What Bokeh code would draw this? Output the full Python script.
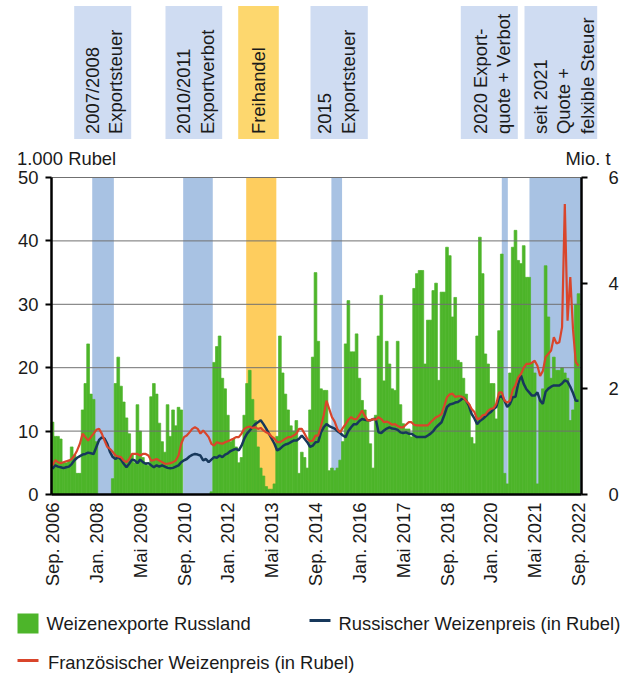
import math
from bokeh.plotting import figure
from bokeh.models import Range1d, LinearAxis, FixedTicker, ColumnDataSource
from bokeh.embed import file_html
from bokeh.resources import INLINE
from bokeh.core.properties import value

FONT = "Liberation Sans"

# ---------------- data ----------------
# month index 0 = Sep. 2006 ... 192 = Sep. 2022
months = list(range(193))

# Weizenexporte Russland (Mio. t)
exports = [
    1.37, 1.1, 1.1, 1.05, 0.6, 0.6, 0.65, 0.9, 0.75, 0.4,
    0.4, 1.6, 2.1, 2.85, 1.9, 1.8, 1.0, 0.0, 0.0, 0.0,
    0.0, 0.0, 0.3, 2.1, 2.6, 2.05, 1.75, 1.45, 1.15, 0.75,
    0.6, 1.7, 1.2, 0.7, 0.6, 0.55, 1.85, 2.1, 1.9, 1.35,
    1.0, 0.8, 1.7, 1.1, 1.6, 1.3, 1.65, 1.6, 0.0, 0.0,
    0.0, 0.0, 0.0, 0.0, 0.0, 0.0, 0.0, 0.0, 0.05, 2.5,
    2.8, 3.0, 2.2, 2.0, 1.5, 1.0, 1.05, 0.9, 0.6, 0.7,
    1.5, 2.1, 2.35, 1.8, 1.4, 0.9, 0.5, 0.35, 0.15, 0.1,
    0.1, 0.2, 1.1, 3.0, 2.3, 1.9, 1.6, 1.3, 1.2, 1.4,
    0.4, 0.8, 0.7, 0.5, 1.6, 2.6, 4.2, 2.9, 2.0, 1.97,
    1.97, 0.45, 0.5, 0.45, 0.5, 0.65, 1.0, 2.85, 3.67, 2.7,
    2.7, 3.04, 2.2, 1.78, 1.6, 1.4, 0.96, 0.5, 1.5, 3.0,
    3.77, 2.15, 2.9, 2.47, 2.0, 1.97, 2.9, 1.7, 1.34, 1.24,
    1.24, 1.09, 3.9, 4.18, 4.24, 4.24, 2.47, 3.3, 3.3, 3.86,
    4.0, 2.16, 3.83, 3.83, 4.68, 4.52, 3.36, 3.73, 2.54, 2.5,
    2.2, 1.9, 1.7, 1.08, 0.96, 3.0, 4.87, 4.18, 2.66, 2.47,
    2.1, 2.1, 1.43, 3.1, 4.55, 0.4, 0.2, 2.3, 4.68, 5.0,
    4.43, 4.37, 4.71, 4.11, 4.11, 2.5, 2.3, 0.2, 1.8, 2.0,
    4.33, 3.36, 2.2, 2.6, 2.35, 2.35, 2.4, 2.3, 2.2, 1.4,
    1.6, 3.6, 3.8,
]

# Russischer Weizenpreis (1.000 Rubel)
price_ru = [
    4.05, 4.6, 4.4, 4.3, 4.15, 4.3, 4.4, 4.8, 5.4, 5.8,
    6.05, 6.3, 6.4, 6.6, 6.5, 6.4, 7.5, 8.6, 9.0, 8.8,
    8.0, 6.7, 5.9, 5.6, 5.9, 5.5, 4.85, 4.3, 4.85, 5.5,
    5.4, 4.95, 5.5, 5.1, 4.85, 4.95, 4.6, 4.3, 4.6, 4.4,
    4.6, 4.4, 4.2, 4.15, 4.2, 4.4, 4.6, 5.1, 5.4, 5.6,
    6.0, 6.25, 6.4, 6.3, 6.15, 5.4, 5.6, 5.1, 5.5, 5.9,
    5.8, 6.15, 5.9, 6.3, 6.5, 6.85, 7.05, 7.2, 6.95, 7.7,
    8.8, 9.6, 10.1, 10.6, 11.1, 11.4, 11.7, 11.1, 10.4, 9.6,
    8.8, 8.0, 6.95, 7.2, 7.6, 7.9, 8.0, 8.25, 8.5, 8.5,
    8.8, 9.3, 8.8, 8.25, 7.5, 7.7, 8.25, 8.3, 9.8, 10.6,
    11.1, 10.8, 10.6, 10.4, 10.0, 9.7, 9.3, 9.05, 10.0, 10.6,
    11.1, 11.1, 11.6, 11.9, 11.8, 11.7, 11.7, 11.9, 11.9, 9.8,
    9.7, 10.1, 10.4, 10.6, 10.4, 10.35, 10.2, 9.8, 9.7, 9.8,
    9.6, 9.6, 9.3, 9.05, 9.05, 9.05, 9.05, 9.3, 9.6, 10.0,
    10.6, 11.0, 11.4, 12.5, 13.8, 14.2, 14.3, 14.5, 14.6, 14.9,
    15.3, 14.8, 14.0, 12.7, 12.0, 11.1, 11.6, 11.9, 12.3, 12.7,
    13.0, 13.5, 13.8, 15.35, 15.5, 14.8, 13.8, 14.3, 15.35, 15.4,
    17.5, 18.8, 17.45, 16.6, 16.1, 15.6, 15.6, 16.1, 14.8, 14.3,
    16.2, 16.7, 17.0, 17.2, 17.2, 17.2, 17.5, 18.0, 17.8, 17.0,
    16.0, 14.8, 14.8,
]

# Französischer Weizenpreis (1.000 Rubel)
price_fr = [
    4.6, 5.4, 5.1, 4.95, 5.1, 5.25, 5.35, 5.6, 6.15, 6.95,
    8.0, 9.6, 9.05, 8.5, 9.05, 9.6, 10.2, 10.35, 9.6, 8.5,
    7.5, 7.2, 6.7, 6.15, 6.0, 5.9, 5.35, 5.1, 5.6, 6.4,
    6.4, 6.4, 6.15, 6.4, 6.4, 6.15, 5.35, 5.45, 5.6, 5.35,
    5.1, 4.85, 4.85, 4.95, 5.1, 5.35, 6.15, 8.0, 9.05, 9.3,
    9.8, 10.35, 10.6, 10.35, 9.6, 10.1, 9.6, 9.05, 8.0, 7.7,
    8.25, 8.1, 8.0, 8.25, 8.4, 8.6, 8.8, 9.05, 9.05, 9.6,
    10.35, 10.6, 10.7, 10.5, 10.6, 10.35, 10.5, 10.1, 9.8, 9.6,
    9.15, 8.8, 8.25, 8.25, 8.5, 8.8, 9.05, 9.05, 9.3, 9.6,
    10.35, 10.35, 9.6, 8.8, 8.4, 8.5, 9.3, 9.3, 10.8, 12.5,
    14.8, 13.5, 12.2, 11.5, 10.3, 9.8, 10.5, 11.1, 11.8, 12.2,
    11.9, 11.9, 12.5, 13.25, 12.4, 11.7, 11.7, 11.9, 11.8, 12.2,
    11.9, 11.4, 11.5, 11.3, 11.0, 11.1, 10.8, 10.6, 10.6, 11.0,
    11.4, 11.4, 11.0, 10.9, 10.9, 10.9, 10.9, 10.9, 11.4, 11.8,
    12.2, 12.4, 12.7, 14.0, 15.35, 15.8, 15.9, 15.4, 15.5, 15.5,
    15.3, 14.8, 14.3, 13.5, 13.0, 11.9, 12.0, 12.5, 12.6, 13.2,
    13.5, 13.6, 14.3, 16.1, 16.1, 14.8, 14.5, 14.8, 16.5, 17.2,
    18.5, 19.0, 20.0, 20.6, 20.6, 20.8, 21.1, 20.3, 18.7, 19.5,
    21.7, 22.2, 22.7, 24.8, 23.8, 24.0, 26.4, 45.8, 27.4, 34.3,
    26.0, 20.9, 20.3,
]

tick_months = [0, 16, 32, 48, 64, 80, 96, 112, 128, 144, 160, 176, 192]
tick_labels = ["Sep. 2006", "Jan. 2008", "Mai 2009", "Sep. 2010", "Jan. 2012",
               "Mai 2013", "Sep. 2014", "Jan. 2016", "Mai 2017", "Sep. 2018",
               "Jan. 2020", "Mai 2021", "Sep. 2022"]
left_ticks = [0, 10, 20, 30, 40, 50]
right_ticks = [0, 2, 4, 6]

# policy periods (month index)
period_start = [14.5, 47.7, 70.7, 101.8, 164.0, 174.1]
period_end = [22.4, 58.5, 81.7, 105.7, 166.2, 193.1]
period_kind = ["restr", "restr", "free", "restr", "restr", "restr"]
period_labels = [
    ["2007/2008", "Exportsteuer"],
    ["2010/2011", "Exportverbot"],
    ["Freihandel"],
    ["2015", "Exportsteuer"],
    ["2020 Export-", "quote + Verbot"],
    ["seit 2021", "Quote +", "felxible Steuer"],
]
legend_labels = ["Weizenexporte Russland", "Russischer Weizenpreis (in Rubel)",
                 "Französischer Weizenpreis (in Rubel)"]

# ---------------- styles / layout ----------------
GREEN = "#4db52a"
BLUE_LINE = "#17385b"
RED_LINE = "#d9452b"
BAND = {"restr": "#a8c2e3", "free": "#fecd5e"}
BOX = {"restr": "#cfdcf2", "free": "#fdd76e"}
TXT = "#1a1a1a"
FS = "18.4px"

W, H = 630, 675
X0, DX = 52.0, 2.7396          # pixel of month 0, pixels per month
Y0 = 494.0                     # pixel of value 0
DY_L = 317.0 / 50              # pixels per 1.000 Rubel
DY_R = 317.0 / 6               # pixels per Mio. t
X_LO, X_HI = -0.365, 193.1     # chart extent in months

p = figure(width=W, height=H, title=None,
           x_range=Range1d(-X0 / DX, (W - X0) / DX),
           y_range=Range1d(-(H - Y0) / DY_L, Y0 / DY_L),
           output_backend="svg", toolbar_location=None,
           x_axis_location=None, y_axis_location=None,
           min_border=0, min_border_left=0, min_border_right=0,
           min_border_top=0, min_border_bottom=0)
p.extra_y_ranges = {"exp": Range1d(-(H - Y0) / DY_R, Y0 / DY_R), "py": Range1d(H, 0)}
p.extra_x_ranges = {"px": Range1d(0, W)}
p.outline_line_color = None
p.background_fill_color = "white"
p.border_fill_color = "white"
p.xgrid.visible = False
p.ygrid.visible = False

# policy bands
band_src = ColumnDataSource(dict(left=period_start, right=period_end,
                                 color=[BAND[k] for k in period_kind]))
p.quad(left="left", right="right", bottom=left_ticks[0], top=left_ticks[-1], source=band_src,
       fill_color="color", line_color=None)

# export bars
p.vbar(x=months, top=exports, width=1.0, bottom=0, y_range_name="exp",
       fill_color=GREEN, line_color=GREEN, line_width=0.7)

# horizontal grid lines (over the bars)
gy = left_ticks[1:]
p.segment(x0=[X_LO] * len(gy), x1=[X_HI] * len(gy), y0=gy, y1=gy,
          line_color="#707070", line_width=1)

# price lines
p.line(months, price_ru, line_color=BLUE_LINE, line_width=2.5)
p.line(months, price_fr, line_color=RED_LINE, line_width=2.2)

# axes
def style(ax, standoff):
    ax.axis_line_width = 2.5
    ax.axis_line_color = "black"
    ax.major_tick_in = 0
    ax.major_tick_line_width = 2
    ax.major_tick_line_color = "black"
    ax.minor_tick_line_color = None
    ax.major_label_standoff = standoff
    ax.major_label_text_font = FONT
    ax.major_label_text_font_size = FS
    ax.major_label_text_color = TXT

la = LinearAxis(ticker=FixedTicker(ticks=left_ticks), fixed_location=X_LO,
                bounds=(left_ticks[0], left_ticks[-1]))
style(la, 7)
la.major_tick_out = 6
p.add_layout(la, "left")

ra = LinearAxis(y_range_name="exp", ticker=FixedTicker(ticks=right_ticks), fixed_location=X_HI,
                bounds=(right_ticks[0], right_ticks[-1]))
style(ra, 21)
ra.major_tick_out = 6
p.add_layout(ra, "right")

ba = LinearAxis(ticker=FixedTicker(ticks=tick_months), fixed_location=0, bounds=(X_LO, X_HI))
style(ba, 8)
ba.major_tick_out = 0
ba.major_label_overrides = {m: s for m, s in zip(tick_months, tick_labels)}
ba.major_label_orientation = math.pi / 2
p.add_layout(ba, "below")

# unit labels
p.text(x=[16.5, 610], y=[157.5, 157.5], text=["1.000 Rubel", "Mio. t"],
       text_align=["left", "right"], x_range_name="px", y_range_name="py",
       text_baseline="middle",
       text_font=value(FONT), text_font_size=FS, text_color=TXT)

# top label boxes
box_left = [73.7, 165.0, 237.7, 310.0, 460.3, 524.0]
box_right = [130.7, 221.7, 278.3, 367.3, 517.3, 596.7]
line_x = [[91.7, 115.0], [183.3, 206.7], [258.3], [324.0, 348.3],
          [480.0, 503.3], [540.0, 563.3, 586.7]]
p.quad(left=box_left, right=box_right, top=[5.5] * 6, bottom=[138.5] * 6,
       x_range_name="px", y_range_name="py",
       fill_color=[BOX[k] for k in period_kind], line_color=None)
tx, ty, tt = [], [], []
for lines, xs in zip(period_labels, line_x):
    for s, xx in zip(lines, xs):
        tx.append(xx)
        ty.append(133.5)
        tt.append(s)
p.text(x=tx, y=ty, text=tt, angle=math.pi / 2, x_range_name="px", y_range_name="py",
       text_align="left", text_baseline="middle",
       text_font=value(FONT), text_font_size=FS, text_color=TXT)

# legend
p.quad(left=[17], right=[38], top=[613], bottom=[633], x_range_name="px", y_range_name="py",
       fill_color=GREEN, line_color=None)
p.line([309, 330], [620, 620], x_range_name="px", y_range_name="py",
       line_color=BLUE_LINE, line_width=3)
p.line([17, 38], [660, 660], x_range_name="px", y_range_name="py",
       line_color=RED_LINE, line_width=3)
p.text(x=[46, 338, 47.5], y=[622.5, 622.5, 661.5], text=legend_labels,
       x_range_name="px", y_range_name="py",
       text_align="left", text_baseline="middle",
       text_font=value(FONT), text_font_size=FS, text_color=TXT)

open("out.html", "w").write(file_html(p, INLINE))
